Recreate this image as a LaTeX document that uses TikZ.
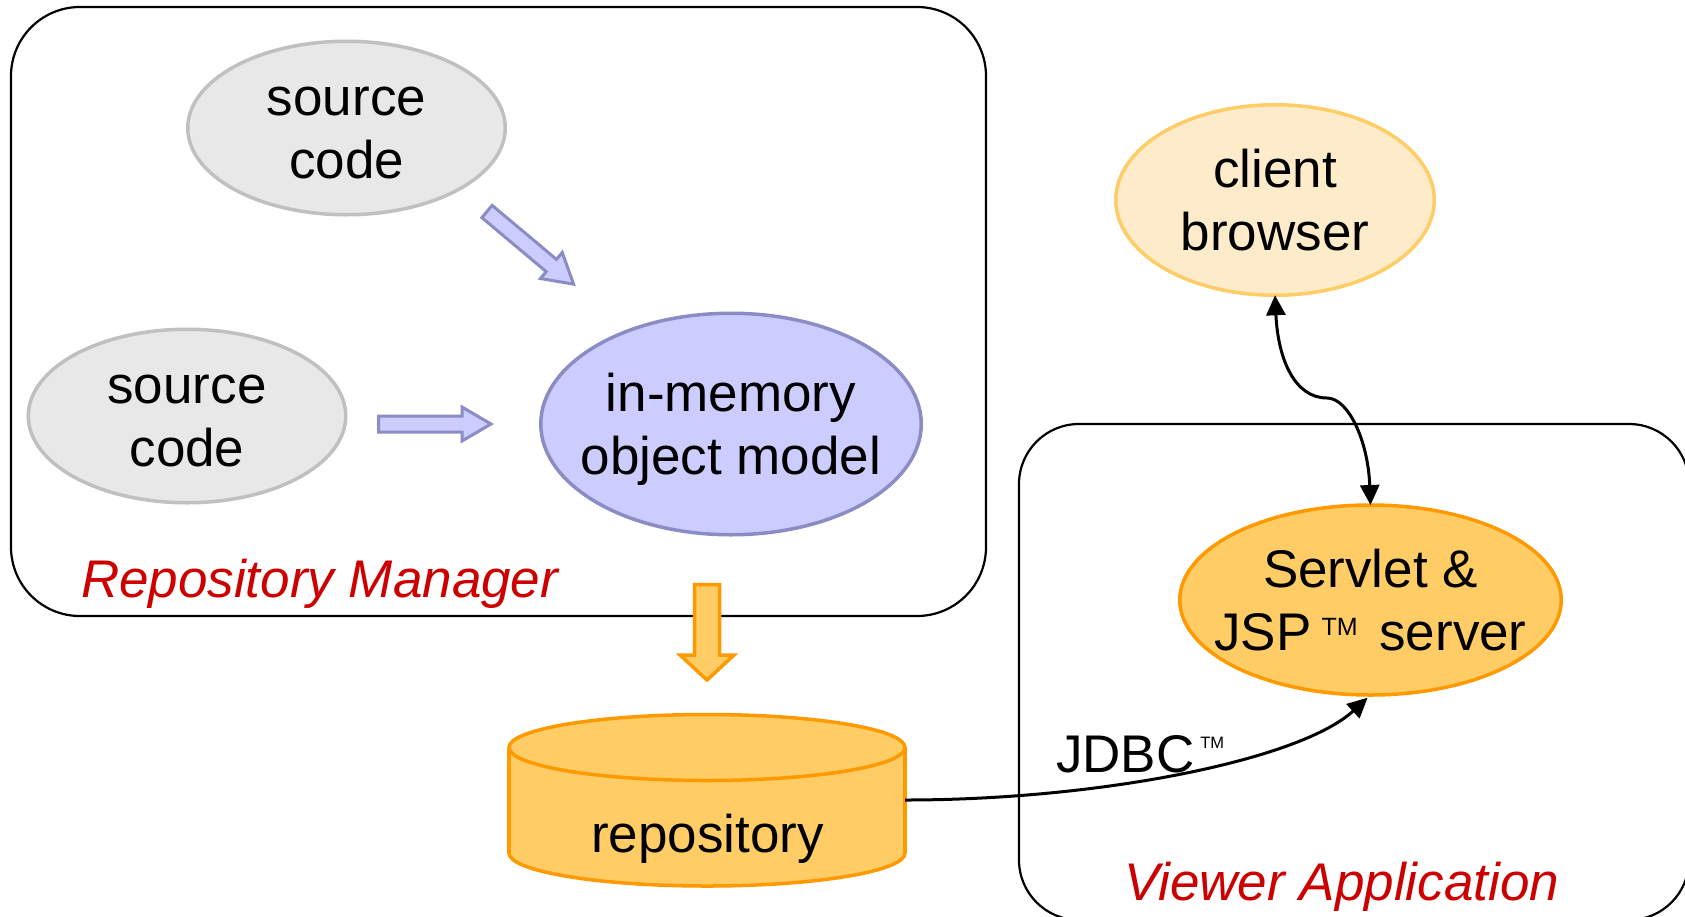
\documentclass[tikz,border=0pt]{standalone}
\usepackage{fontspec}
\setmainfont{Liberation Sans}
\usetikzlibrary{arrows.meta,shapes.geometric}

\definecolor{srcfill}{HTML}{E8E8E8}
\definecolor{srcline}{HTML}{C0C0C0}
\definecolor{memfill}{HTML}{CCCCFF}
\definecolor{memline}{HTML}{8C8CC4}
\definecolor{orfill}{HTML}{FFCC66}
\definecolor{orline}{HTML}{FF9900}
\definecolor{clfill}{HTML}{FDEBC9}
\definecolor{clline}{HTML}{FFCC66}
\definecolor{labred}{HTML}{CC0000}

% two centred lines with fixed baseline distance
\newcommand{\twol}[2]{\strut #1\\\strut #2}
% small raised trademark sign: #1 = raise, #2 = font size
\newcommand{\tmk}[2]{\raisebox{#1}{\fontsize{#2}{#2}\selectfont TM}}

\tikzset{bigtri/.tip={Triangle[length=20pt, width=19pt]}}

\begin{document}
\begin{tikzpicture}[x=1pt, y=-1pt,
  every node/.style={inner sep=0pt, outer sep=0pt},
  words/.style={font=\fontsize{53}{63}\selectfont, align=center},
  plain/.style={font=\fontsize{53}{63}\selectfont},
  caption/.style={font=\fontsize{53}{63}\selectfont\itshape, text=labred},
  group/.style={draw=black, line width=2.2pt, rounded corners=#1},
  oval/.style 2 args={ellipse, minimum width=#1, minimum height=#2, line width=3.5pt},
  srcnode/.style={oval={317.5pt}{173.5pt}, fill=srcfill, draw=srcline},
  memnode/.style={oval={380.5pt}{221.5pt}, fill=memfill, draw=memline},
  clientnode/.style={oval={318.5pt}{190.5pt}, fill=clfill, draw=clline},
  servnode/.style={oval={381.5pt}{190pt}, fill=orfill, draw=orline},
  fatblue/.style={fill=memfill, draw=memline, line width=3pt, line join=miter},
  fatorange/.style={fill=orfill, draw=orline, line width=3.5pt, line join=miter},
  drum/.style={fill=orfill, draw=orline, line width=3.5pt},
  conn/.style={draw=black, line width=3pt}
]
\useasboundingbox (0,0) rectangle (1685,916);
\clip (0,0) rectangle (1685,916);

% group frames
\draw[group=69pt] (11,7) rectangle (986,616);
\draw[group=60pt] (1019,424) rectangle (1689,920);

% repository manager contents
\node[srcnode] (src1) at (346.5,128) {};
\node[words] at (346.5,134.4) {\twol{source}{code}};
\node[srcnode] (src2) at (187,416) {};
\node[words] at (187,422.4) {\twol{source}{code}};
\node[memnode] (mem) at (731,424) {};
\node[words] at (731,430.4) {\twol{in-memory}{object model}};

% block arrows into the object model
\draw[fatblue] (378.5,416) -- (462,416) -- (462,407) -- (491,424) -- (462,441) -- (462,432) -- (378.5,432) -- cycle;
\begin{scope}[shift={(487,211.5)}, rotate=-40]
  \draw[fatblue] (0,-8) -- (84,-8) -- (84,-17) -- (113,0) -- (84,17) -- (84,8) -- (0,8) -- cycle;
\end{scope}

% block arrow down to the repository
\draw[fatorange] (694.5,584.5) -- (719.5,584.5) -- (719.5,655) -- (734,655) -- (707,680) -- (680,655) -- (694.5,655) -- cycle;

% repository drum
\draw[drum] (707,853) ellipse [x radius=198, y radius=33];
\fill[orfill] (509,747.5) rectangle (905,853);
\draw[orline, line width=3.5pt] (509,747.5) -- (509,853) (905,747.5) -- (905,853);
\draw[drum] (707,747.5) ellipse [x radius=198, y radius=33];
\node[minimum width=396pt, minimum height=105.5pt] (repo) at (707,800) {};
\node[plain, anchor=base] at (707.5,852) {repository};

% viewer application contents
\node[clientnode] (client) at (1275,200) {};
\node[words] at (1275,206.4) {\twol{client}{browser}};
\node[servnode] (servlet) at (1370.5,600) {};
\node[words] at (1370.5,606.4) {\twol{Servlet \&}{JSP\kern10pt\tmk{15.5pt}{25}\kern7pt{} server}};

% connectors
\draw[conn, {bigtri}-{bigtri}] (client.south) .. controls (1278,360) and (1295,398) .. (1327,398)
  .. controls (1348,398) and (1368,440) .. (servlet.north);
\draw[conn, -{bigtri}, shorten >=4pt] (repo.east) .. controls (1100,800) and (1300,760) .. (servlet.south);
\node[plain, anchor=base west] (jdbc) at (1056,772) {JDBC\kern6pt\tmk{24pt}{16.5}};

% frame captions
\node[caption, anchor=base west] (rmcap) at (81,597) {Repository Manager};
\node[caption, anchor=base west] (vacap) at (1124,900) {Viewer Application};
\end{tikzpicture}
\end{document}
